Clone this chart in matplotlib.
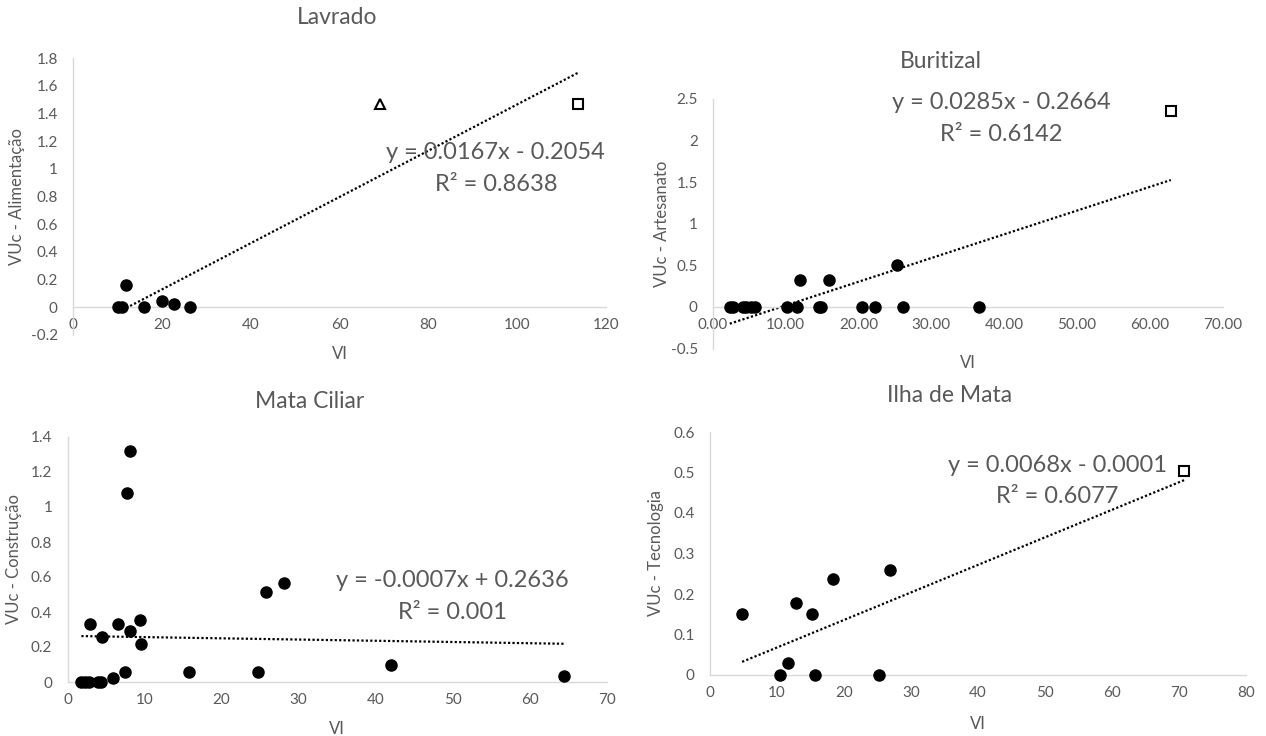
import matplotlib.pyplot as plt
from matplotlib.ticker import MultipleLocator, FuncFormatter

plt.rcParams['font.family'] = ['Lato', 'DejaVu Sans']

W, H = 1266, 736
TXT = '#595959'
AXC = '#D9D9D9'

# Lavrado - Alimentação
lav_x = [10.2, 11.1, 11.9, 15.9, 20.0, 22.7, 26.3]
lav_y = [0, 0, 0.162, 0, 0.048, 0.022, 0]
lav_tri_x, lav_tri_y = [69.1], [1.466]
lav_sq_x, lav_sq_y = [113.6], [1.466]
lav_fit = (0.0167, -0.2054, 0.8638)

# Buritizal - Artesanato
bur_x = [2.3, 2.7, 4.1, 4.6, 5.2, 5.8, 10.2, 11.6, 14.5, 14.8, 20.5, 22.2, 26.1, 36.6,
         11.9, 15.9, 25.3]
bur_y = [0, 0, 0, 0, 0, 0, 0, 0, 0, 0, 0, 0, 0, 0,
         0.33, 0.33, 0.5]
bur_sq_x, bur_sq_y = [62.9], [2.35]
bur_fit = (0.0285, -0.2664, 0.6142)

# Mata Ciliar - Construção
mat_x = [1.8, 2.3, 2.8, 3.9, 4.4, 2.9, 4.5, 5.9, 6.6, 7.5, 7.7, 8.1, 8.1, 9.4, 9.5,
         15.7, 24.7, 25.8, 28.1, 42.0, 64.4]
mat_y = [0, 0, 0, 0, 0, 0.33, 0.258, 0.023, 0.33, 0.057, 1.079, 1.318, 0.292, 0.353, 0.216,
         0.057, 0.057, 0.512, 0.567, 0.095, 0.036]
mat_fit = (-0.0007, 0.2636, 0.001)

# Ilha de Mata - Tecnologia
ilh_x = [4.8, 10.4, 11.6, 12.8, 15.2, 15.6, 18.4, 25.2, 26.8]
ilh_y = [0.15, 0, 0.029, 0.179, 0.15, 0, 0.236, 0, 0.259]
ilh_sq_x, ilh_sq_y = [70.8], [0.504]
ilh_fit = (0.0068, -0.0001, 0.6077)


def fmt(v, pos):
    return f'{round(v, 2):g}'


def fmt2(v, pos):
    return f'{v:.2f}'


def eq_lines(fit):
    a, b, r2 = fit
    sign = '-' if b < 0 else '+'
    r2s = f'{r2:.4f}'.rstrip('0')
    return f'y = {a:.4f}x {sign} {abs(b):.4f}', f'R² = {r2s}'


def panel(fig, px, xlim, ylim, xstep, ystep, xs, ys, extra, fit, ylabel, title, title_px,
          eq_pos, xfmt=fmt, vi_off=-0.05, yl_off=-0.09):
    x0, x1, ytop, ybot = px
    ax = fig.add_axes([x0 / W, 1 - ybot / H, (x1 - x0) / W, (ybot - ytop) / H])
    ax.set_xlim(*xlim)
    ax.set_ylim(*ylim)
    ax.xaxis.set_major_locator(MultipleLocator(xstep))
    ax.yaxis.set_major_locator(MultipleLocator(ystep))
    ax.xaxis.set_major_formatter(FuncFormatter(xfmt))
    ax.yaxis.set_major_formatter(FuncFormatter(fmt))
    for s in ['top', 'right']:
        ax.spines[s].set_visible(False)
    for s in ['left', 'bottom']:
        ax.spines[s].set_color(AXC)
        ax.spines[s].set_linewidth(1.0)
    ax.spines['bottom'].set_position(('data', 0))
    ax.tick_params(length=0, labelsize=11, colors=TXT)
    ax.tick_params(axis='x', pad=8)
    ax.tick_params(axis='y', pad=11)

    allx = list(xs) + [v for e in extra for v in e[0]]
    a, b, r2 = fit
    lx = [min(allx), max(allx)]
    ax.plot(lx, [a * v + b for v in lx], color='black', lw=1.6, ls=(0, (1, 1)), zorder=2)

    ax.plot(xs, ys, 'o', color='black', ms=8, zorder=3, clip_on=False)
    for ex, ey, mk, ms in extra:
        ax.plot(ex, ey, mk, mfc='white', mec='black', mew=1.5, ms=ms, zorder=3, clip_on=False)

    l1, l2 = eq_lines(fit)
    for txt, off in [(l1, 11.5), (l2, -11.5)]:
        ax.annotate(txt, xy=eq_pos, xycoords='data', xytext=(0, off), textcoords='offset points',
                    ha='center', va='center', fontsize=17, color=TXT, zorder=4)

    ax.set_xlabel('VI', fontsize=12, color=TXT)
    ax.set_ylabel(ylabel, fontsize=12, color=TXT)
    ax.xaxis.set_label_coords(0.5, vi_off)
    ax.yaxis.set_label_coords(yl_off, 0.5)
    fig.text(title_px[0] / W, 1 - title_px[1] / H, title, ha='center', va='center',
             fontsize=16.5, color=TXT)
    return ax


fig = plt.figure(figsize=(W / 100, H / 100), dpi=100)

panel(fig, (73, 606, 58, 335), (0, 120), (-0.2, 1.8), 20, 0.2,
      lav_x, lav_y,
      [(lav_tri_x, lav_tri_y, '^', 6.5), (lav_sq_x, lav_sq_y, 's', 7)],
      lav_fit, 'VUc - Alimentação', 'Lavrado', (337, 18), (95.2, 1.0),
      vi_off=-0.04, yl_off=-0.09)

panel(fig, (713, 1222.5, 99, 348.6), (0, 70), (-0.5, 2.5), 10, 0.5,
      bur_x, bur_y,
      [(bur_sq_x, bur_sq_y, 's', 7)],
      bur_fit, 'VUc - Artesanato', 'Buritizal', (941, 62), (39.6, 2.26), xfmt=fmt2,
      vi_off=-0.026, yl_off=-0.085)

panel(fig, (67.5, 607, 437, 682), (0, 70), (0, 1.4), 10, 0.2,
      mat_x, mat_y, [],
      mat_fit, 'VUc - Construção', 'Mata Ciliar', (310, 402), (49.9, 0.489),
      vi_off=-0.16, yl_off=-0.085)

panel(fig, (710, 1246, 432, 675), (0, 80), (0, 0.6), 10, 0.1,
      ilh_x, ilh_y,
      [(ilh_sq_x, ilh_sq_y, 's', 7)],
      ilh_fit, 'VUc - Tecnologia', 'Ilha de Mata', (950, 395), (51.8, 0.479),
      vi_off=-0.169, yl_off=-0.085)

fig.savefig('out.png', dpi=100, facecolor='white')
